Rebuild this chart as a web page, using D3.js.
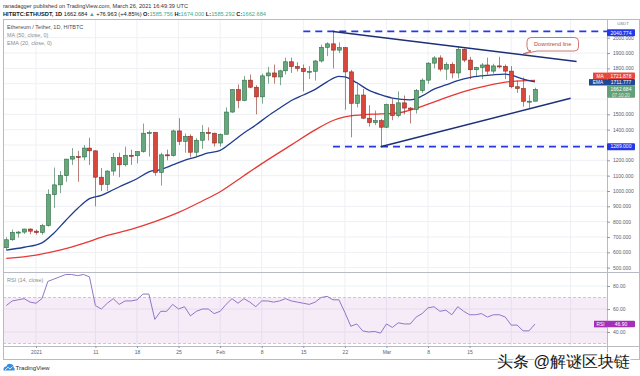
<!DOCTYPE html>
<html><head><meta charset="utf-8">
<script src="https://cdn.jsdelivr.net/npm/d3@7"></script>
<style>
body{margin:0;background:#fff}
svg{display:block}
text{font-family:"Liberation Sans",Arial,sans-serif}
</style>
</head><body>
<svg id="c" width="640" height="376"></svg>
<script>
// ---------------- DATA ----------------
const startDate = "2020-12-27";
const opens  = [630,682,730,732,752,738,729,774,976,1040,
  1100,1208,1225,1222,1280,1262,1090,1043,1130,1218,
  1171,1233,1230,1257,1377,1382,1121,1236,1231,1392,
  1324,1357,1253,1331,1382,1377,1313,1370,1515,1661,
  1591,1723,1677,1614,1751,1770,1744,1784,1843,1812,
  1800,1779,1781,1848,1937,1960,1919,1935,1777,1572,
  1626,1475,1446,1459,1416,1564,1492,1575,1541,1533,
  1655,1723,1834,1868,1795,1825,1770,1924,1854,1791,
  1806,1822,1782,1816,1813,1782,1680,1669,1585.3,1585.756];
const highs  = [698,748,740,754,756,748,786,1011,1153,1130,
  1210,1280,1262,1300,1347,1265,1150,1135,1248,1250,
  1290,1270,1260,1440,1395,1385,1250,1270,1400,1475,
  1375,1370,1345,1430,1415,1380,1375,1545,1665,1695,
  1750,1760,1690,1765,1810,1825,1790,1870,1870,1840,
  1825,1815,1855,1955,1970,2040.774,1970,1940,1790,1710,
  1665,1560,1525,1470,1570,1600,1650,1623,1548,1665,
  1735,1840,1880,1885,1840,1840,1945,1930,1875,1810,
  1835,1870,1830,1875,1825,1815,1720,1740,1625,1674];
const lows   = [615,675,696,720,718,716,715,768,890,986,
  1060,1170,1060,1200,1170,900,1000,1000,1100,1090,
  1160,1170,1180,1250,1225,1100,1035,1200,1225,1300,
  1250,1220,1220,1275,1330,1290,1290,1370,1510,1540,
  1585,1670,1500,1570,1700,1700,1690,1760,1770,1780,
  1650,1730,1720,1838,1880,1800,1900,1530,1350,1545,
  1470,1420,1430,1289,1410,1462,1480,1500,1440,1505,
  1640,1700,1800,1780,1725,1735,1735,1840,1730,1750,
  1730,1760,1765,1800,1730,1670,1640,1550,1540,1585.292];
const closes = [682,730,732,752,738,729,774,976,1040,1100,
  1208,1225,1222,1280,1262,1090,1043,1130,1218,1171,
  1233,1230,1257,1377,1382,1121,1236,1231,1392,1324,
  1357,1253,1331,1382,1377,1313,1370,1515,1661,1591,
  1723,1677,1614,1751,1770,1744,1784,1843,1812,1800,
  1779,1781,1848,1937,1960,1919,1935,1777,1572,1626,
  1475,1446,1459,1416,1564,1492,1575,1541,1533,1655,
  1723,1834,1868,1795,1825,1770,1924,1854,1791,1806,
  1822,1782,1816,1813,1782,1680,1669,1585.3,1585.8,1662.684];

const emaDates  = ["2020-12-27","2020-12-30","2021-01-02","2021-01-04","2021-01-06","2021-01-08","2021-01-10","2021-01-12","2021-01-14","2021-01-16","2021-01-18","2021-01-20","2021-01-22","2021-01-24","2021-01-26","2021-01-28","2021-01-30","2021-02-01","2021-02-03","2021-02-05","2021-02-07","2021-02-09","2021-02-11","2021-02-13","2021-02-15","2021-02-17","2021-02-19","2021-02-21","2021-02-22","2021-02-24","2021-02-26","2021-02-28","2021-03-02","2021-03-05","2021-03-07","2021-03-09","2021-03-11","2021-03-13","2021-03-15","2021-03-17","2021-03-19","2021-03-21","2021-03-22","2021-03-24","2021-03-26"];
const emaValues = [614,633,662,725,808,886,950,972,1008,1045,1080,1125,1140,1170,1200,1222,1248,1265,1320,1378,1430,1488,1540,1590,1626,1663,1712,1748,1745,1706,1658,1628,1606,1595,1620,1665,1692,1720,1740,1751,1758,1762,1756,1730,1711.777];

const maDates  = ["2020-12-27","2021-01-01","2021-01-05","2021-01-09","2021-01-13","2021-01-17","2021-01-21","2021-01-25","2021-01-29","2021-02-01","2021-02-05","2021-02-09","2021-02-13","2021-02-17","2021-02-20","2021-02-22","2021-02-25","2021-02-28","2021-03-03","2021-03-06","2021-03-10","2021-03-14","2021-03-18","2021-03-22","2021-03-26"];
const maValues = [560,582,614,658,710,750,800,860,935,995,1100,1203,1301,1399,1460,1484,1497,1503,1510,1540,1595,1649,1688,1714,1721.878];

const rsiValues = [63,67,68,69,66,65,69,84,86,88,
  90,90,89,90,88,63,60,65,69,64,
  67,67,68,73,73,51,58,58,64,60,
  62,54,58,60,60,56,58,64,69,65,
  69,66,62,67,67,66,67,69,67,66,
  65,64,66,70,71,68,68,57,45,47,
  41,40,40.5,39,47,44,48,47,47,53,
  56,61,62,58,59,55,62,58,55,55,
  56,53,55,55,53,46,46,41,41,46.9];

const priceGrid  = [500,600,700,800,900,1000,1100,1200,1300,1400,1500,1600,1700,1800,1900,2000];
const priceTicks = [500,600,700,800,900,1000,1100,1200,1400,1500,1800,1900,2000];
const rsiTicks   = [40,60,80];
const rsiBand    = [70,30];
const timeGrid   = ["2021-01-01","2021-01-11","2021-01-18","2021-01-25","2021-02-01","2021-02-08","2021-02-15","2021-02-22","2021-03-01","2021-03-08","2021-03-15","2021-03-22","2021-04-01"];
const timeTicks  = ["2021-01-01","2021-01-11","2021-01-18","2021-01-25","2021-02-01","2021-02-08","2021-02-15","2021-02-22","2021-03-01","2021-03-08","2021-03-15"];
const timeLabels = ["2021","11","18","25","Feb","8","15","22","Mar","8","15"];

const resistanceLevel = {start:"2021-02-15", value:2040.774};
const supportLevel    = {start:"2021-02-20", value:1289.000};
const downtrend = [["2021-02-20",2040.774],["2021-04-02",1845]];
const uptrend   = [["2021-02-28",1289],["2021-04-01",1605]];

const lastMA = 1721.878, lastEMA = 1711.777, lastPrice = 1662.684, lastRSI = 46.90;

// ---------------- LAYOUT ----------------
const L = 3, R = 607, TOP = 19, MAINB = 272, RSIB = 346, AXB = 359;
const svg = d3.select("#c");
const parse = d3.utcParse("%Y-%m-%d");
const dates = d3.utcDay.range(parse(startDate), d3.utcDay.offset(parse(startDate), opens.length));

const x = d3.scaleUtc().domain([parse("2020-12-27"), parse("2021-04-01")]).range([6.3, 6.3 + 95*5.94]);
const y = d3.scaleLinear().domain([1000, 2000]).range([191, 37.7]);
const yr = d3.scaleLinear().domain([40, 80]).range([332, 286]);

const defs = svg.append("defs");
defs.append("clipPath").attr("id","mainClip").append("rect").attr("x",L).attr("y",TOP).attr("width",R-L).attr("height",MAINB-TOP);
defs.append("clipPath").attr("id","rsiClip").append("rect").attr("x",L).attr("y",MAINB).attr("width",R-L).attr("height",RSIB-MAINB);

const gridC = "#eef0f4";
svg.append("g").selectAll("line").data(timeGrid).join("line")
  .attr("x1", d=>x(parse(d))).attr("x2", d=>x(parse(d)))
  .attr("y1", TOP).attr("y2", RSIB).attr("stroke", gridC).attr("stroke-width",1);
svg.append("g").selectAll("line").data(priceGrid).join("line")
  .attr("x1", L).attr("x2", R).attr("y1", d=>y(d)).attr("y2", d=>y(d))
  .attr("stroke", gridC).attr("stroke-width",1);
svg.append("g").selectAll("line").data(rsiTicks).join("line")
  .attr("x1", L).attr("x2", R).attr("y1", d=>yr(d)).attr("y2", d=>yr(d))
  .attr("stroke", gridC).attr("stroke-width",1);

// RSI band
svg.append("rect").attr("x",L).attr("width",R-L)
  .attr("y", yr(rsiBand[0])).attr("height", yr(rsiBand[1]) - yr(rsiBand[0]))
  .attr("fill","#9c27b0").attr("fill-opacity",0.09);
svg.append("g").selectAll("line").data(rsiBand).join("line")
  .attr("x1", L).attr("x2", R).attr("y1", d=>yr(d)).attr("y2", d=>yr(d))
  .attr("stroke","#c9b3dc").attr("stroke-dasharray","3,2").attr("stroke-width",0.8);

// frame
const frameC = "#b8bbc4";
svg.append("rect").attr("x",L+0.5).attr("y",TOP+0.5).attr("width",639-L).attr("height",AXB-TOP)
  .attr("fill","none").attr("stroke",frameC);
svg.append("line").attr("x1",L).attr("x2",640).attr("y1",MAINB+0.5).attr("y2",MAINB+0.5).attr("stroke",frameC);
svg.append("line").attr("x1",L).attr("x2",640).attr("y1",RSIB+0.5).attr("y2",RSIB+0.5).attr("stroke",frameC);
svg.append("line").attr("x1",R+0.5).attr("x2",R+0.5).attr("y1",TOP).attr("y2",AXB).attr("stroke",frameC);

// ---------------- MAIN PANEL ----------------
const main = svg.append("g").attr("clip-path","url(#mainClip)");

const lineGen = d3.line().x(d=>x(parse(d[0]))).y(d=>y(d[1])).curve(d3.curveMonotoneX);
main.append("path").datum(maDates.map((d,i)=>[d,maValues[i]]))
  .attr("d", lineGen).attr("fill","none").attr("stroke","#e53935").attr("stroke-width",1.3);
main.append("path").datum(emaDates.map((d,i)=>[d,emaValues[i]]))
  .attr("d", lineGen).attr("fill","none").attr("stroke","#1f3c8f").attr("stroke-width",1.3);

// candles
const upFill="#64a87b", upLine="#2f6d47", dnFill="#d9463b", dnLine="#8b2a21";
const cg = main.append("g");
const candles = cg.selectAll("g").data(dates.map((d,i)=>({d, o:opens[i], h:highs[i], l:lows[i], c:closes[i]}))).join("g");
candles.append("line")
  .attr("x1", d=>Math.round(x(d.d))+0.5).attr("x2", d=>Math.round(x(d.d))+0.5)
  .attr("y1", d=>y(d.h)).attr("y2", d=>y(d.l))
  .attr("stroke", d=>d.c>=d.o?upLine:dnLine).attr("stroke-width",0.8).attr("stroke-opacity",0.75);
candles.append("rect")
  .attr("x", d=>Math.round(x(d.d))-1.5).attr("width",4)
  .attr("y", d=>y(Math.max(d.o,d.c)))
  .attr("height", d=>Math.max(1, Math.abs(y(d.o)-y(d.c))))
  .attr("fill", d=>d.c>=d.o?upFill:dnFill)
  .attr("stroke", d=>d.c>=d.o?upLine:dnLine).attr("stroke-width",0.6);

// horizontal dashed levels
[resistanceLevel, supportLevel].forEach(lv=>{
  main.append("line").attr("x1", x(parse(lv.start))).attr("x2", R)
    .attr("y1", y(lv.value)).attr("y2", y(lv.value))
    .attr("stroke","#2638e8").attr("stroke-width",1.8).attr("stroke-dasharray","7,5");
});
// trendlines
[downtrend, uptrend].forEach(t=>{
  main.append("line")
    .attr("x1", x(parse(t[0][0]))).attr("y1", y(t[0][1]))
    .attr("x2", x(parse(t[1][0]))).attr("y2", y(t[1][1]))
    .attr("stroke","#1c2f78").attr("stroke-width",1.5);
});

// callout
const co = svg.append("g");
co.append("path")
  .attr("d","M531,37.5 H574.5 Q578.5,37.5 578.5,41.5 V47 Q578.5,51 574.5,51 H537 L523,54 L531,51 Q527,51 527,47 V41.5 Q527,37.5 531,37.5 Z")
  .attr("fill","#fff").attr("stroke","#c0564b").attr("stroke-width",0.8);
co.append("text").attr("x",552.7).attr("y",46.3).attr("text-anchor","middle")
  .attr("font-size",5.6).attr("fill","#b24a3e").text("Downtrend line");

// ---------------- RSI PANEL ----------------
const rsiG = svg.append("g").attr("clip-path","url(#rsiClip)");
rsiG.append("path").datum(dates.map((d,i)=>[d,rsiValues[i]]))
  .attr("d", d3.line().x(d=>x(d[0])).y(d=>yr(d[1])))
  .attr("fill","none").attr("stroke","#9275c6").attr("stroke-width",1);

// ---------------- AXES ----------------
const axC = "#5d606b";
const pAxis = svg.append("g").attr("transform",`translate(${R},0)`)
  .call(d3.axisRight(y).tickValues(priceTicks).tickFormat(d=>d.toFixed(3)).tickSize(3).tickPadding(3));
pAxis.select(".domain").remove();
pAxis.selectAll("line").attr("stroke","#9598a1");
pAxis.selectAll("text").attr("font-size",5).attr("fill",axC).attr("font-family","Liberation Sans,Arial,sans-serif");

const rAxis = svg.append("g").attr("transform",`translate(${R},0)`)
  .call(d3.axisRight(yr).tickValues(rsiTicks).tickFormat(d=>d.toFixed(2)).tickSize(3).tickPadding(3));
rAxis.select(".domain").remove();
rAxis.selectAll("line").attr("stroke","#9598a1");
rAxis.selectAll("text").attr("font-size",5).attr("fill",axC).attr("font-family","Liberation Sans,Arial,sans-serif");

const tAxis = svg.append("g").attr("transform",`translate(0,${RSIB})`)
  .call(d3.axisBottom(x).tickValues(timeTicks.map(parse)).tickFormat((d,i)=>timeLabels[i]).tickSize(2).tickPadding(2));
tAxis.select(".domain").remove();
tAxis.selectAll("line").attr("stroke","#9598a1");
tAxis.selectAll("text").attr("font-size",5).attr("fill",axC).attr("font-family","Liberation Sans,Arial,sans-serif");

svg.append("text").attr("x",623).attr("y",25).attr("text-anchor","middle").attr("font-size",4.3).attr("fill","#787b86").text("USDT");

// axis value tags
function tag(cy, h, fill, label, sub){
  const g = svg.append("g");
  g.append("rect").attr("x",R).attr("y",cy-h/2).attr("width",28).attr("height",h).attr("rx",1).attr("fill",fill);
  if(sub){
    g.append("text").attr("x",R+14).attr("y",cy-1).attr("text-anchor","middle").attr("font-size",5).attr("fill","#fff").text(label);
    g.append("text").attr("x",R+14).attr("y",cy+5).attr("text-anchor","middle").attr("font-size",4.6).attr("fill","#e2eee6").text(sub);
  } else {
    g.append("text").attr("x",R+14).attr("y",cy+1.8).attr("text-anchor","middle").attr("font-size",5).attr("fill","#fff").text(label);
  }
}
function sideTag(cy, w, h, fill, label){
  svg.append("rect").attr("x",R-w).attr("y",cy-h/2).attr("width",w).attr("height",h).attr("fill",fill);
  svg.append("text").attr("x",R-w/2).attr("y",cy+1.8).attr("text-anchor","middle").attr("font-size",4.8).attr("fill","#fff").text(label);
}
tag(y(resistanceLevel.value)+1.3, 7, "#2537e6", resistanceLevel.value.toFixed(3));
tag(y(supportLevel.value), 7, "#2537e6", supportLevel.value.toFixed(3));
tag(75.8, 6.4, "#e8493c", lastMA.toFixed(3)); sideTag(75.8, 14, 6.4, "#e8493c", "MA");
tag(82.3, 6.4, "#214897", lastEMA.toFixed(3)); sideTag(82.3, 18, 6.4, "#214897", "EMA");
tag(91.5, 12.6, "#61a079", lastPrice.toFixed(3), "07:10:20");
tag(yr(lastRSI), 6.6, "#a42fb8", lastRSI.toFixed(2));
sideTag(yr(lastRSI), 13, 6.6, "#a42fb8", "RSI");

// ---------------- TEXTS ----------------
svg.append("text").attr("x",3).attr("y",8).attr("font-size",5.6).attr("fill","#333")
  .attr("textLength",185).attr("lengthAdjust","spacingAndGlyphs")
  .text("ranadagger published on TradingView.com, March 26, 2021 16:49:39 UTC");
const h2 = svg.append("text").attr("x",3).attr("y",16).attr("font-size",5.6).attr("fill","#131722")
  .attr("textLength",263).attr("lengthAdjust","spacingAndGlyphs");
const greenT = "#3fa88c";
[["HITBTC:ETHUSDT, 1D ","#131722","bold"],["1662.684 ","#131722","normal"],["▲ ",greenT,"normal"],["+76.963 (+4.85%) ","#131722","normal"],
 ["O:","#131722","bold"],["1585.756 ",greenT,"normal"],["H:","#131722","bold"],["1674.000 ",greenT,"normal"],
 ["L:","#131722","bold"],["1585.292 ",greenT,"normal"],["C:","#131722","bold"],["1662.684",greenT,"normal"]]
 .forEach(s=>h2.append("tspan").attr("fill",s[1]).attr("font-weight",s[2]).text(s[0]));

svg.append("text").attr("x",7).attr("y",29.3).attr("font-size",5.5).attr("fill","#4a4d55").text("Ethereum / Tether, 1D, HITBTC");
svg.append("text").attr("x",7).attr("y",37.3).attr("font-size",5.5).attr("fill","#8a8d96").text("MA (50, close, 0)");
svg.append("text").attr("x",7).attr("y",45).attr("font-size",5.5).attr("fill","#8a8d96").text("EMA (20, close, 0)");
svg.append("text").attr("x",7).attr("y",282).attr("font-size",5.5).attr("fill","#8a8d96").text("RSI (14, close)");

// TradingView logo
const lg = svg.append("g");
lg.append("path").attr("d","M3.5,370.5 Q3,366.5 6.5,366.2 Q7.5,363.2 10.5,364 Q13.8,364.3 13.6,367.3 Q15.2,368.2 14.6,370.5 Z").attr("fill","#3b8ee0");
lg.append("path").attr("d","M5,370 L8,367.2 L10,369 L12.5,366.6").attr("fill","none").attr("stroke","#fff").attr("stroke-width",0.8);
svg.append("text").attr("x",15.5).attr("y",370).attr("font-size",6.2).attr("fill","#2a2e39").text("TradingView");

// watermark
svg.append("text").attr("x",497).attr("y",367).attr("font-size",16.3)
  .attr("font-family","'Noto Sans CJK SC',sans-serif").attr("fill","#161616")
  .attr("stroke","#fff").attr("stroke-width",2.5).attr("paint-order","stroke")
  .text("头条 @解谜区块链");
</script>
</body></html>
